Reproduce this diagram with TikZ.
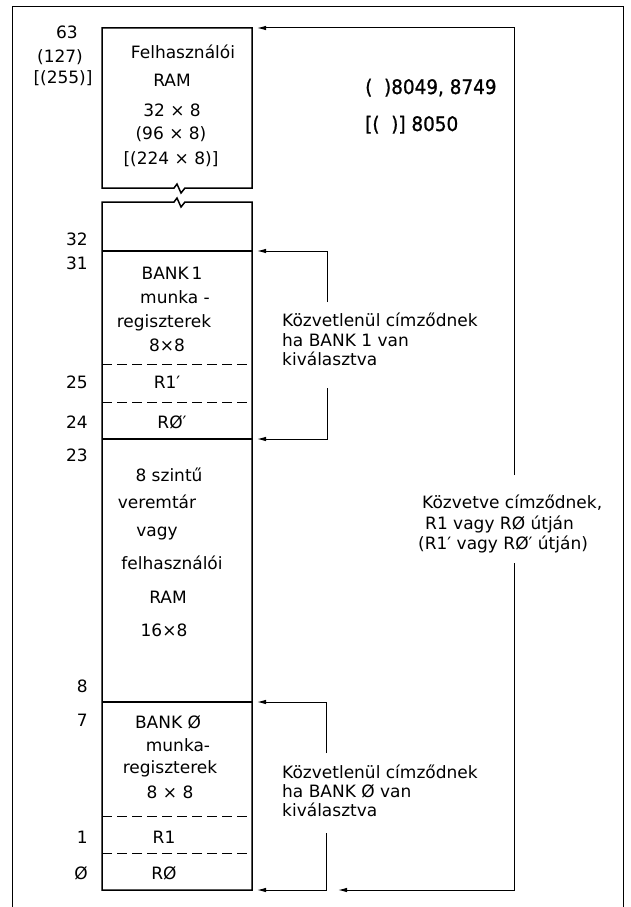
\documentclass[tikz,border=0pt]{standalone}
\usepackage{fontspec}
\setmainfont{DejaVu Sans}
\newfontfamily\numfont[FakeBold=1,FakeStretch=0.92]{DejaVu Sans}
\usetikzlibrary{arrows.meta}
\begin{document}
\begin{tikzpicture}[x=1pt,y=-1pt,
  txt/.style={inner sep=0pt, text height=12pt, text depth=0pt, font=\fontsize{17}{20}\selectfont},
  bigtxt/.style={inner sep=0pt, text height=14pt, text depth=0pt, font=\numfont\fontsize{20}{24}\selectfont},
  col/.style={line width=1.5pt, line join=miter},
  sepline/.style={line width=1.6pt},
  dsep/.style={line width=1pt, dash pattern=on 10pt off 5pt},
  conn/.style={line width=1pt, -{Latex[length=9pt,width=4.5pt]}},
  frameline/.style={line width=1pt}]
\useasboundingbox (0,0) rectangle (630,907);
% outer frame
\draw[frameline] (12,907) -- (12,7) -- (623,7) -- (623,907);
% column coordinates
\coordinate (tl) at (102,28);
\coordinate (tr) at (252,28);
\coordinate (bl) at (102,890);
\coordinate (br) at (252,890);
% top box with break
\draw[col] (174,188) -- (102,188) -- (tl) -- (tr) -- (252,188) -- (185,188) -- (181,193) -- (177,184) -- cycle;
% lower column with break
\draw[col] (174,202) -- (102,202) -- (bl) -- (br) -- (252,202) -- (185,202) -- (181,207) -- (177,198) -- cycle;
% separators
\draw[sepline] (102,251) -- (252,251);
\draw[sepline] (102,439) -- (252,439);
\draw[sepline] (102,702) -- (252,702);
\draw[dsep] (102,364) -- (252,364);
\draw[dsep] (102,402) -- (252,402);
\draw[dsep] (102,816) -- (252,816);
\draw[dsep] (102,853) -- (252,853);
% arrow targets
\coordinate (a63) at (257,28);
\coordinate (a31) at (257,251);
\coordinate (a24) at (257,439);
\coordinate (a7) at (257,702);
\coordinate (a0) at (257,890);
\coordinate (a0b) at (338,890);
% loop corners / ends
\coordinate (bigA) at (514,475);
\coordinate (bigT) at (514,28);
\coordinate (bigB) at (514,563);
\coordinate (bigBC) at (514,890);
\coordinate (b1A) at (327,302);
\coordinate (b1T) at (327,251);
\coordinate (b1B) at (327,388);
\coordinate (b1BC) at (327,439);
\coordinate (b0A) at (326,753);
\coordinate (b0T) at (326,702);
\coordinate (b0B) at (326,833);
\coordinate (b0BC) at (326,890);
\draw[conn] (bigA) -- (bigT) -- (a63);
\draw[conn] (bigB) -- (bigBC) -- (a0b);
\draw[conn] (b1A) -- (b1T) -- (a31);
\draw[conn] (b1B) -- (b1BC) -- (a24);
\draw[conn] (b0A) -- (b0T) -- (a7);
\draw[conn] (b0B) -- (b0BC) -- (a0);
% top box text
\node[txt] (t1) at (183,53) {Felhasználói};
\node[txt] (t2) at (172,80) {RAM};
\node[txt] (t3) at (172,110) {32 × 8};
\node[txt] (t4) at (171,133) {(96 × 8)};
\node[txt] (t5) at (171,158) {[(224 × 8)]};
% left top labels
\node[txt] (l63) at (67,32) {63};
\node[txt] (l127) at (60,57) {(127)};
\node[txt] (l255) at (63,78) {[(255)]};
% right top numbers
\node[bigtxt, anchor=west] (n1) at (365,87) {(\ \ )8049, 8749};
\node[bigtxt, anchor=west] (n2) at (365,124) {[(\ \ )] 8050};
% bank1 block
\node[txt] (k1) at (172,273) {BANK\,1};
\node[txt] (k2) at (175,297) {munka -};
\node[txt] (k3) at (164,321) {regiszterek};
\node[txt] (k4) at (167,345) {8×8};
\node[txt] (k5) at (167,382) {R1′};
\node[txt] (k6) at (172,422) {RØ′};
% middle block
\node[txt] (m1) at (169,475) {8 szintű};
\node[txt] (m2) at (157,502) {veremtár};
\node[txt] (m3) at (157,530) {vagy};
\node[txt] (m4) at (172,563) {felhasználói};
\node[txt] (m5) at (168,597) {RAM};
\node[txt] (m6) at (164,630) {16×8};
% bank0 block
\node[txt] (z1) at (168,722) {BANK Ø};
\node[txt] (z2) at (178,745) {munka-};
\node[txt] (z3) at (170,767) {regiszterek};
\node[txt] (z4) at (170,792) {8 × 8};
\node[txt] (z5) at (164,837) {R1};
\node[txt] (z6) at (164,873) {RØ};
% left address labels
\node[txt, anchor=east] (l32) at (88,239) {32};
\node[txt, anchor=east] (l31) at (88,263) {31};
\node[txt, anchor=east] (l25) at (88,382) {25};
\node[txt, anchor=east] (l24) at (88,422) {24};
\node[txt, anchor=east] (l23) at (88,455) {23};
\node[txt, anchor=east] (l8) at (88,686) {8};
\node[txt, anchor=east] (l7) at (88,720) {7};
\node[txt, anchor=east] (l1) at (88,837) {1};
\node[txt, anchor=east] (l0) at (88,873) {Ø};
% bank1 loop text
\node[txt, anchor=west] (d1) at (282,320) {Közvetlenül címződnek};
\node[txt, anchor=west] (d2) at (282,340) {ha BANK 1 van};
\node[txt, anchor=west] (d3) at (282,359) {kiválasztva};
% bank0 loop text
\node[txt, anchor=west] (e1) at (282,772) {Közvetlenül címződnek};
\node[txt, anchor=west] (e2) at (282,791) {ha BANK Ø van};
\node[txt, anchor=west] (e3) at (282,810) {kiválasztva};
% big loop text
\node[txt, anchor=west] (f1) at (422,502) {Közvetve címződnek,};
\node[txt, anchor=west] (f2) at (425,523) {R1 vagy RØ útján};
\node[txt, anchor=west] (f3) at (418,543) {(R1′ vagy RØ′ útján)};
\end{tikzpicture}
\end{document}
